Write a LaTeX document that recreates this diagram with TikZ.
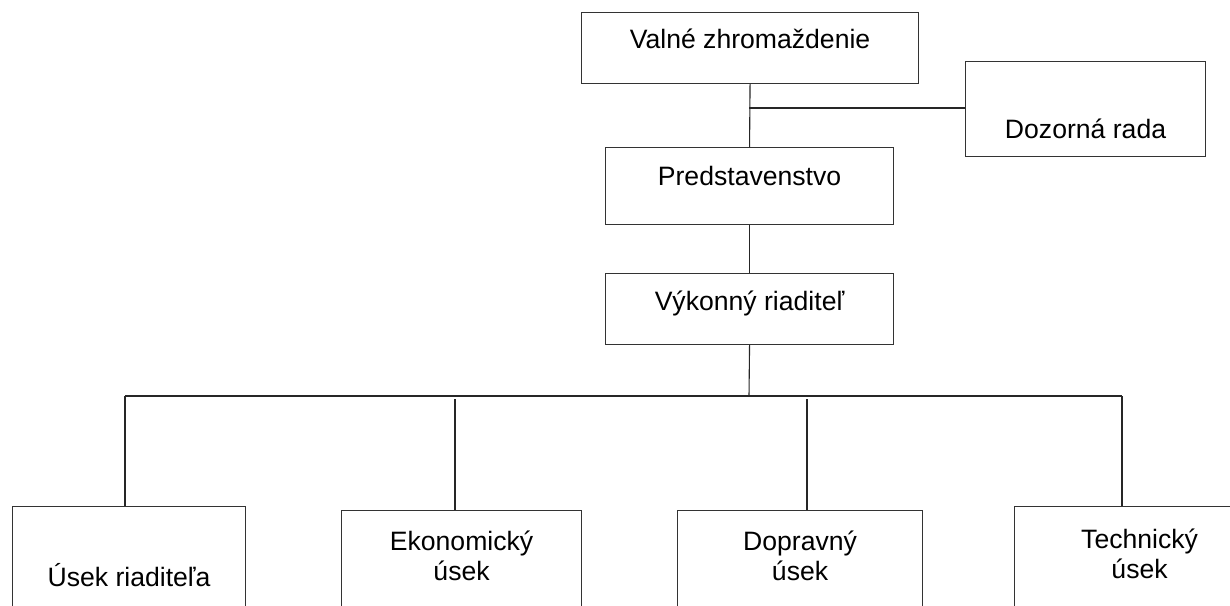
\documentclass[tikz,border=0pt]{standalone}
\usepackage{fontspec}
\setmainfont{Liberation Sans}
\begin{document}
\begin{tikzpicture}[x=0.5pt,y=-0.5pt,
  box/.style={draw=black!80, line width=0.55pt, rectangle, inner sep=0pt, anchor=north west},
  txt/.style={font=\fontsize{13.3}{15}\selectfont, inner sep=0pt, anchor=base, align=center},
  conn/.style={draw=black!85, line width=0.55pt}]
\useasboundingbox (0,0) rectangle (1230,605);
\clip (0,0) rectangle (1230,605);
% boxes
\node[box, minimum width=168.5pt, minimum height=35.5pt] (valne) at (581,12) {};
\node[box, minimum width=120pt, minimum height=47.5pt] (dozor) at (965,61) {};
\node[box, minimum width=144pt, minimum height=38.5pt] (predst) at (605,147) {};
\node[box, minimum width=144pt, minimum height=35.5pt] (vykon) at (605,273) {};
\node[box, minimum width=116.5pt, minimum height=70pt] (usek) at (12,506) {};
\node[box, minimum width=120pt, minimum height=70pt] (ekon) at (341,510) {};
\node[box, minimum width=122.5pt, minimum height=70pt] (dopr) at (677,510) {};
\node[box, minimum width=125pt, minimum height=70pt] (tech) at (1014,506) {};
% texts
\node[txt] (valneT) at ([yshift=-18pt]valne.north) {Valné zhromaždenie};
\node[txt] (dozorT) at ([yshift=-38.5pt]dozor.north) {Dozorná rada};
\node[txt] (predstT) at ([yshift=-19pt]predst.north) {Predstavenstvo};
\node[txt] (vykonT) at ([yshift=-18.5pt]vykon.north) {Výkonný riaditeľ};
\node[txt] (usekT) at ([yshift=-40pt]usek.north) {Úsek riaditeľa};
\node[txt] (ekonT) at ([yshift=-35pt]ekon.north) {Ekonomický\\úsek};
\node[txt] (doprT) at ([yshift=-35pt]dopr.north) {Dopravný\\úsek};
\node[txt] (techT) at ([yshift=-36pt]tech.north) {Technický\\úsek};
% connectors
\coordinate (j1) at (749,108);
\draw[conn] (valne.south) -- (predst.north);
\draw[conn] (j1) -- (j1 -| dozor.west);
\draw[conn] (predst.south) -- (vykon.north);
\coordinate (bus) at (749,396);
\coordinate (busL) at (125,396);
\coordinate (busR) at (1122,396);
\coordinate (e1) at (455,399);
\coordinate (d1) at (807,399);
\draw[conn] (vykon.south) -- (bus);
\draw[conn] (busL) -- (busR);
\draw[conn] (busL) -- (busL |- usek.north);
\draw[conn] (e1) -- (e1 |- ekon.north);
\draw[conn] (d1) -- (d1 |- dopr.north);
\draw[conn] (busR) -- (busR |- tech.north);
\end{tikzpicture}
\end{document}
